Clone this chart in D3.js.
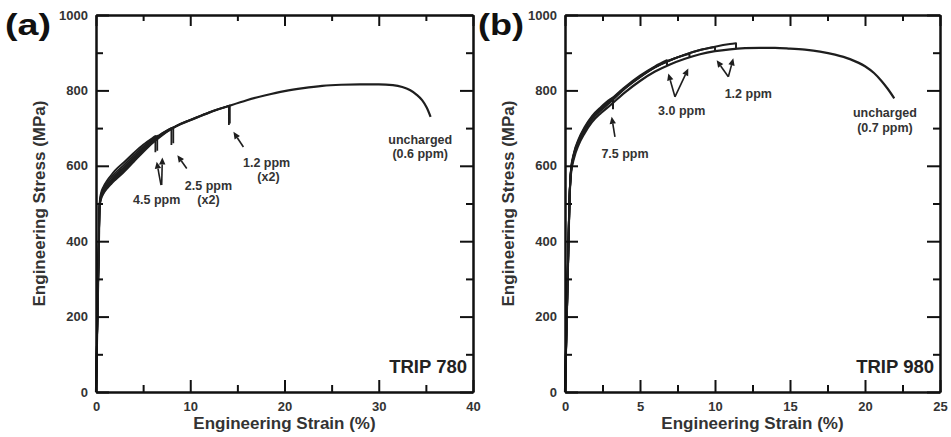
<!DOCTYPE html>
<html><head><meta charset="utf-8">
<script src="https://cdn.jsdelivr.net/npm/d3@7"></script>
<style>
body{margin:0;background:#fff}
svg{display:block}
text{font-family:"Liberation Sans",Arial,Helvetica,sans-serif;font-weight:bold}
</style>
</head><body>
<svg id="chart" width="951" height="437"></svg>
<script>
// ---------- Panel (a) TRIP 780 ----------
const a_unch_strain = [0, 0.1, 0.2, 0.3, 0.38, 0.5, 0.8, 1.2, 1.6, 2, 3, 4, 5, 6, 7, 8, 9, 10, 12, 14, 16, 18, 20, 22, 24, 26, 28, 30, 31.5, 32.5, 33.3, 34, 34.6, 35.1, 35.5];
const a_unch_stress = [0, 130, 260, 390, 490, 510, 527, 541, 552, 562, 585, 611, 637, 661, 681, 698, 711, 721, 741, 758, 774, 787, 798, 806, 812, 815, 816, 816, 814, 809, 801, 789, 774, 754, 730];

const a_45_1_strain = [0, 0.1, 0.2, 0.3, 0.38, 0.5, 0.8, 1.2, 1.6, 2, 3, 4, 5, 6, 6.3, 6.3];
const a_45_1_stress = [0, 130, 260, 390, 500, 525, 545, 562, 575, 587, 610, 634, 656, 674, 679, 636];
const a_45_2_strain = [0, 0.1, 0.2, 0.3, 0.38, 0.5, 0.8, 1.2, 1.6, 2, 3, 4, 5, 6, 6.5, 6.5];
const a_45_2_stress = [0, 130, 260, 390, 497, 520, 540, 556, 569, 580, 603, 628, 651, 671, 680, 640];
const a_25_1_strain = [0, 0.1, 0.2, 0.3, 0.38, 0.5, 0.8, 1.2, 1.6, 2, 3, 4, 5, 6, 7, 8.0, 8.0];
const a_25_1_stress = [0, 130, 260, 390, 495, 517, 536, 551, 563, 574, 598, 623, 647, 668, 686, 700, 655];
const a_25_2_strain = [0, 0.1, 0.2, 0.3, 0.38, 0.5, 0.8, 1.2, 1.6, 2, 3, 4, 5, 6, 7, 8.2, 8.2];
const a_25_2_stress = [0, 130, 260, 390, 493, 514, 533, 548, 560, 571, 594, 619, 644, 666, 685, 702, 660];
const a_12_1_strain = [0, 0.1, 0.2, 0.3, 0.38, 0.5, 0.8, 1.2, 1.6, 2, 3, 4, 5, 6, 7, 8, 9, 10, 12, 14.1, 14.1];
const a_12_1_stress = [0, 130, 260, 390, 492, 512, 530, 545, 556, 567, 590, 615, 640, 663, 683, 699, 712, 722, 742, 759, 708];
const a_12_2_strain = [0, 0.1, 0.2, 0.3, 0.38, 0.5, 0.8, 1.2, 1.6, 2, 3, 4, 5, 6, 7, 8, 9, 10, 12, 14.2, 14.2];
const a_12_2_stress = [0, 130, 260, 390, 491, 511, 529, 543, 554, 565, 588, 613, 639, 662, 682, 698, 711, 721, 741, 760, 712];

// arrows [fromStrain, fromStress, toStrain, toStress]
const a_arrows = [[6.9, 549, 6.44, 611], [6.97, 549, 7.04, 622], [9.63, 593, 8.63, 628], [15.64, 650, 14.58, 690]];
const a_label_text = ["4.5 ppm", "2.5 ppm", "(x2)", "1.2 ppm", "(x2)", "uncharged", "(0.6 ppm)"];
const a_label_strain = [6.44, 11.93, 11.93, 18.1, 18.3, 34.4, 34.4];
const a_label_stress = [509, 547, 509, 608, 570, 669, 632];

// ---------- Panel (b) TRIP 980 ----------
const b_unch_strain = [0, 0.1, 0.2, 0.3, 0.4, 0.6, 0.9, 1.3, 1.8, 2.4, 3, 4, 5, 6, 7, 8, 9, 10, 11, 12, 13, 14, 15, 16, 17, 18, 19, 20, 20.6, 21.1, 21.5, 21.95];
const b_unch_stress = [0, 170, 340, 510, 580, 620, 655, 686, 716, 740, 760, 795, 825, 850, 869, 884, 896, 904, 909, 912, 913, 913, 911, 908, 903, 895, 883, 864, 846, 825, 805, 779];

const b_75_strain = [0, 0.1, 0.2, 0.3, 0.4, 0.6, 0.9, 1.3, 1.8, 2.4, 3, 3.2, 3.2];
const b_75_stress = [0, 170, 340, 510, 590, 635, 670, 702, 732, 756, 776, 781, 750];
const b_30_1_strain = [0, 0.1, 0.2, 0.3, 0.4, 0.6, 0.9, 1.3, 1.8, 2.4, 3, 4, 5, 6, 6.8, 6.8];
const b_30_1_stress = [0, 170, 340, 510, 588, 632, 667, 699, 729, 753, 774, 809, 839, 864, 880, 866];
const b_30_2_strain = [0, 0.1, 0.2, 0.3, 0.4, 0.6, 0.9, 1.3, 1.8, 2.4, 3, 4, 5, 6, 7, 8, 8.3, 8.3];
const b_30_2_stress = [0, 170, 340, 510, 586, 630, 665, 697, 727, 751, 772, 807, 837, 862, 880, 894, 897, 886];
const b_12_1_strain = [0, 0.1, 0.2, 0.3, 0.4, 0.6, 0.9, 1.3, 1.8, 2.4, 3, 4, 5, 6, 7, 8, 9, 10, 10];
const b_12_1_stress = [0, 170, 340, 510, 585, 628, 663, 695, 725, 749, 770, 806, 836, 862, 880, 895, 907, 915, 904];
const b_12_2_strain = [0, 0.1, 0.2, 0.3, 0.4, 0.6, 0.9, 1.3, 1.8, 2.4, 3, 4, 5, 6, 7, 8, 9, 10, 11, 11.4, 11.4];
const b_12_2_stress = [0, 170, 340, 510, 584, 626, 661, 693, 723, 747, 768, 805, 835, 861, 880, 895, 907, 916, 923, 925, 910];

const b_arrows = [[3.33, 677, 3.11, 730], [7.33, 783, 6.89, 845], [7.33, 783, 8.22, 858], [10.89, 836, 10.11, 880], [10.89, 836, 11.22, 885]];
const b_label_text = ["7.5 ppm", "3.0 ppm", "1.2 ppm", "uncharged", "(0.7 ppm)"];
const b_label_strain = [4.0, 7.78, 12.22, 21.33, 21.33];
const b_label_stress = [631, 746, 792, 740, 700];

// ---------- axes ----------
const yMajorTicks = [0, 200, 400, 600, 800, 1000];
const yMinorTicks = [100, 300, 500, 700, 900];
const a_xMajorTicks = [0, 10, 20, 30, 40];
const a_xMinorTicks = [5, 15, 25, 35];
const b_xMajorTicks = [0, 5, 10, 15, 20, 25];
const b_xMinorTicks = [2.5, 7.5, 12.5, 17.5, 22.5];
const xTitle = "Engineering Strain (%)";
const yTitle = "Engineering Stress (MPa)";

const INK = "#1e1e1e";
const TXT = "#333";

const svg = d3.select("#chart");

function panel(cfg) {
  const x = d3.scaleLinear().domain(cfg.xDomain).range(cfg.xRange);
  const y = d3.scaleLinear().domain([0, 1000]).range([392, 15]);
  const g = svg.append("g");
  const x0 = cfg.xRange[0], x1 = cfg.xRange[1];
  const yb = y(0), yt = y(1000);

  const line = d3.line().x(p => x(p[0])).y(p => y(p[1])).curve(d3.curveMonotoneX);
  cfg.curves.forEach(c => {
    const pts = c.s.map((v, i) => [v, c.t[i]]);
    const n = pts.length;
    let path;
    if (n > 1 && pts[n - 1][0] === pts[n - 2][0]) {
      path = line(pts.slice(0, n - 1)) + "L" + x(pts[n - 1][0]) + "," + y(pts[n - 1][1]);
    } else {
      path = line(pts);
    }
    g.append("path").attr("d", path).attr("fill", "none").attr("stroke", INK)
      .attr("stroke-width", c.w).attr("stroke-linejoin", "round");
  });

  // arrows: shaft + triangular head, positioned through the scales
  cfg.arrows.forEach(a => {
    const bxp = x(a[0]), byp = y(a[1]), hx = x(a[2]), hy = y(a[3]);
    const L = Math.hypot(hx - bxp, hy - byp), ux = (hx - bxp) / L, uy = (hy - byp) / L;
    const hl = 7, hw = 3.2;
    const sx = hx - ux * hl, sy = hy - uy * hl;
    g.append("path").attr("d", `M${bxp},${byp}L${sx},${sy}`).attr("stroke", INK).attr("stroke-width", 1.6).attr("fill", "none");
    g.append("path").attr("d", `M${hx},${hy}L${sx - uy * hw},${sy + ux * hw}L${sx + uy * hw},${sy - ux * hw}Z`).attr("fill", INK);
  });

  cfg.labels.t.forEach((t, i) => {
    g.append("text").attr("x", x(cfg.labels.s[i])).attr("y", y(cfg.labels.p[i])).attr("dy", "0.35em")
      .attr("text-anchor", "middle").attr("fill", TXT).style("font-size", "12.5px").text(t);
  });

  // frame: d3 axes on all four sides with inward ticks (domain lines kept)
  function ax(axis, tx, ty, labels) {
    const s = g.append("g").attr("transform", `translate(${tx},${ty})`).call(axis);
    s.select(".domain").attr("stroke", "#111").attr("stroke-width", 2);
    s.selectAll(".tick line").attr("stroke", "#111").attr("stroke-width", 2);
    if (labels) s.selectAll("text").attr("fill", TXT).style("font-size", "13px").style("font-weight", "bold");
    return s;
  }
  ax(d3.axisBottom(x).tickValues(cfg.xMajor).tickSizeInner(-12).tickSizeOuter(0).tickPadding(10).tickFormat(d3.format("d")), 0, yb, true);
  ax(d3.axisBottom(x).tickValues(cfg.xMinor).tickSizeInner(-7).tickSizeOuter(0).tickFormat(""), 0, yb, false);
  ax(d3.axisTop(x).tickValues(cfg.xMajor).tickSizeInner(-11).tickSizeOuter(0).tickFormat(""), 0, yt, false);
  ax(d3.axisTop(x).tickValues(cfg.xMinor).tickSizeInner(-6).tickSizeOuter(0).tickFormat(""), 0, yt, false);
  ax(d3.axisLeft(y).tickValues(yMajorTicks).tickSizeInner(-13).tickSizeOuter(0).tickPadding(8).tickFormat(d3.format("d")), x0, 0, true);
  ax(d3.axisLeft(y).tickValues(yMinorTicks).tickSizeInner(-7).tickSizeOuter(0).tickFormat(""), x0, 0, false);
  ax(d3.axisRight(y).tickValues(yMajorTicks).tickSizeInner(-13).tickSizeOuter(0).tickFormat(""), x1, 0, false);
  ax(d3.axisRight(y).tickValues(yMinorTicks).tickSizeInner(-7).tickSizeOuter(0).tickFormat(""), x1, 0, false);

  g.append("text").attr("x", (x0 + x1) / 2).attr("y", 429).attr("text-anchor", "middle")
    .attr("fill", TXT).style("font-size", "17px").text(xTitle);
  g.append("text").attr("transform", `translate(${cfg.yTitleX},203.5) rotate(-90)`)
    .attr("text-anchor", "middle").attr("fill", TXT).style("font-size", "17px").text(yTitle);

  g.append("text").attr("x", cfg.tagX).attr("y", 35).attr("fill", "#111")
    .style("font-size", "29px").attr("textLength", 46).attr("lengthAdjust", "spacingAndGlyphs").text(cfg.tag);
  g.append("text").attr("x", x1 - 6).attr("y", 373).attr("text-anchor", "end").attr("fill", "#222")
    .style("font-size", "18.5px").text(cfg.steel);
}

panel({
  xDomain: [0, 40], xRange: [96, 473], xMajor: a_xMajorTicks, xMinor: a_xMinorTicks,
  curves: [
    {s: a_45_1_strain, t: a_45_1_stress, w: 1.8},
    {s: a_45_2_strain, t: a_45_2_stress, w: 1.8},
    {s: a_25_1_strain, t: a_25_1_stress, w: 1.8},
    {s: a_25_2_strain, t: a_25_2_stress, w: 1.8},
    {s: a_12_1_strain, t: a_12_1_stress, w: 1.8},
    {s: a_12_2_strain, t: a_12_2_stress, w: 1.8},
    {s: a_unch_strain, t: a_unch_stress, w: 2.2}
  ],
  arrows: a_arrows,
  labels: {t: a_label_text, s: a_label_strain, p: a_label_stress},
  yTitleX: 45, tagX: 5, tag: "(a)", steel: "TRIP 780"
});

panel({
  xDomain: [0, 25], xRange: [565, 940], xMajor: b_xMajorTicks, xMinor: b_xMinorTicks,
  curves: [
    {s: b_75_strain, t: b_75_stress, w: 2},
    {s: b_30_1_strain, t: b_30_1_stress, w: 2},
    {s: b_30_2_strain, t: b_30_2_stress, w: 2},
    {s: b_12_1_strain, t: b_12_1_stress, w: 2},
    {s: b_12_2_strain, t: b_12_2_stress, w: 2},
    {s: b_unch_strain, t: b_unch_stress, w: 2.2}
  ],
  arrows: b_arrows,
  labels: {t: b_label_text, s: b_label_strain, p: b_label_stress},
  yTitleX: 514, tagX: 478, tag: "(b)", steel: "TRIP 980"
});
</script>
</body></html>
